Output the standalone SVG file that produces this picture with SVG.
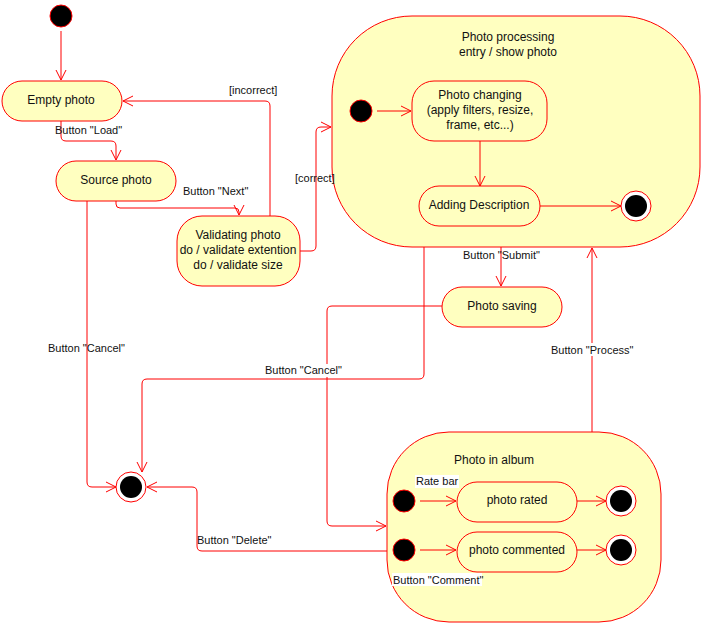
<svg xmlns="http://www.w3.org/2000/svg" width="703" height="626" viewBox="0 0 703 626">
  <defs>
    <marker id="open" viewBox="0 0 12 12" refX="11" refY="6" markerWidth="12" markerHeight="12" markerUnits="userSpaceOnUse" orient="auto">
      <path d="M1,1 L11,6 L1,11" fill="none" stroke="#ff0000" stroke-width="1"/>
    </marker>
  </defs>
  <style>
    .st { fill: #ffffc0; stroke: #ff0000; stroke-width: 1; }
    .ini { fill: #000; stroke: #ff0000; stroke-width: 1; }
    .fo { fill: #fff; stroke: #ff0000; stroke-width: 1; }
    .fi { fill: #000; }
    .lbl { font-family: "Liberation Sans", Arial, sans-serif; font-size: 12px; fill: #111; text-anchor: middle; }
    .tx { font-family: "Liberation Sans", Arial, sans-serif; font-size: 11px; fill: #111; }
    .edge { fill: none; stroke: #ff0000; stroke-width: 1; }
    .arr { marker-end: url(#open); }
  </style>
  <rect width="703" height="626" fill="#fff"/>

  <!-- composite states (drawn first) -->
  <g id="photo-processing">
    <rect class="st" x="332" y="16" width="368" height="231" rx="80" ry="80"/>
    <text class="lbl" x="508" y="41">Photo processing</text>
    <text class="lbl" x="508" y="56">entry / show photo</text>
  </g>
  <g id="photo-in-album">
    <rect class="st" x="387" y="432" width="274" height="190" rx="62" ry="62"/>
    <text class="lbl" x="494" y="464">Photo in album</text>
  </g>

  <!-- connectors -->
  <g id="connectors">
    <path class="edge arr" d="M61,31 V80"/>
    <path class="edge arr" d="M61,121 V136 Q61,141 66,141 H111 Q116,141 116,146 V160"/>
    <path class="edge arr" d="M116,201 V204 Q116,208 120,208 H235 Q239,208 239,212 V215"/>
    <path class="edge arr" d="M270,216 V106 Q270,101 265,101 H123"/>
    <path class="edge arr" d="M300,251 H311 Q316,251 316,246 V132 Q316,127 321,127 H331"/>
    <path class="edge arr" d="M377,111 H411"/>
    <path class="edge arr" d="M480,141 V186"/>
    <path class="edge arr" d="M540,206 H621"/>
    <path class="edge arr" d="M501,247 V286"/>
    <path class="edge arr" d="M424,247 V374 Q424,379 419,379 H147 Q142,379 142,384 V472"/>
    <path class="edge arr" d="M87,201 V482 Q87,487 92,487 H116"/>
    <path class="edge arr" d="M442,306 H332 Q327,306 327,311 V521 Q327,526 332,526 H386"/>
    <path class="edge arr" d="M387,551 H202 Q197,551 197,546 V492 Q197,487 192,487 H147"/>
    <path class="edge arr" d="M592,432 V248"/>
    <path class="edge arr" d="M420,501 H456"/>
    <path class="edge arr" d="M420,550 H456"/>
    <path class="edge arr" d="M577,501 H606"/>
    <path class="edge arr" d="M577,550 H606"/>
  </g>

  <!-- connector labels -->
  <g id="labels">
    <text class="tx" x="55" y="134">Button "Load"</text>
    <text class="tx" x="183" y="195">Button "Next"</text>
    <text class="tx" x="229" y="94">[incorrect]</text>
    <text class="tx" x="295" y="182">[correct]</text>
    <text class="tx" x="463" y="259">Button "Submit"</text>
    <text class="tx" x="48" y="352">Button "Cancel"</text>
    <rect x="263" y="364" width="80" height="13" fill="#fff"/>
    <text class="tx" x="265" y="374">Button "Cancel"</text>
    <rect x="549" y="343" width="86" height="13" fill="#fff"/>
    <text class="tx" x="551" y="354">Button "Process"</text>
    <text class="tx" x="197" y="544">Button "Delete"</text>
    <rect x="415" y="475" width="44" height="13" fill="#fff"/>
    <text class="tx" x="416" y="485">Rate bar</text>
    <rect x="392" y="573" width="90" height="13" fill="#fff"/>
    <text class="tx" x="393" y="584">Button "Comment"</text>
  </g>

  <!-- top-level states -->
  <g id="initial">
    <circle class="ini" cx="61" cy="16" r="11"/>
  </g>
  <g id="empty-photo">
    <rect class="st" x="2" y="81" width="120" height="40" rx="20" ry="20"/>
    <text class="lbl" x="61" y="104">Empty photo</text>
  </g>
  <g id="source-photo">
    <rect class="st" x="56" y="161" width="120" height="40" rx="20" ry="20"/>
    <text class="lbl" x="116" y="184">Source photo</text>
  </g>
  <g id="validating-photo">
    <rect class="st" x="177" y="216" width="123" height="70" rx="25" ry="25"/>
    <text class="lbl" x="238" y="239">Validating photo</text>
    <text class="lbl" x="238" y="254">do / validate extention</text>
    <text class="lbl" x="238" y="269">do / validate size</text>
  </g>
  <g id="final-main">
    <circle class="fo" cx="131" cy="487" r="15"/>
    <circle class="fi" cx="131" cy="487" r="11"/>
  </g>

  <!-- inside Photo processing -->
  <g id="pp-initial">
    <circle class="ini" cx="361" cy="111" r="11"/>
  </g>
  <g id="photo-changing">
    <rect class="st" x="412" y="81" width="135" height="60" rx="22" ry="22"/>
    <text class="lbl" x="480" y="99">Photo changing</text>
    <text class="lbl" x="480" y="114">(apply filters, resize,</text>
    <text class="lbl" x="480" y="129">frame, etc...)</text>
  </g>
  <g id="adding-description">
    <rect class="st" x="419" y="186" width="121" height="40" rx="20" ry="20"/>
    <text class="lbl" x="479" y="209">Adding Description</text>
  </g>
  <g id="pp-final">
    <circle class="fo" cx="636" cy="206" r="15"/>
    <circle class="fi" cx="636" cy="206" r="11"/>
  </g>

  <g id="photo-saving">
    <rect class="st" x="442" y="287" width="120" height="40" rx="20" ry="20"/>
    <text class="lbl" x="502" y="310">Photo saving</text>
  </g>

  <!-- inside Photo in album -->
  <g id="album-initial-rate">
    <circle class="ini" cx="404" cy="501" r="11"/>
  </g>
  <g id="album-initial-comment">
    <circle class="ini" cx="404" cy="550" r="11"/>
  </g>
  <g id="photo-rated">
    <rect class="st" x="457" y="482" width="120" height="40" rx="20" ry="20"/>
    <text class="lbl" x="517" y="504">photo rated</text>
  </g>
  <g id="photo-commented">
    <rect class="st" x="457" y="532" width="120" height="40" rx="20" ry="20"/>
    <text class="lbl" x="517" y="554">photo commented</text>
  </g>
  <g id="album-final-rate">
    <circle class="fo" cx="621" cy="501" r="15"/>
    <circle class="fi" cx="621" cy="501" r="11"/>
  </g>
  <g id="album-final-comment">
    <circle class="fo" cx="621" cy="550" r="15"/>
    <circle class="fi" cx="621" cy="550" r="11"/>
  </g>
</svg>
